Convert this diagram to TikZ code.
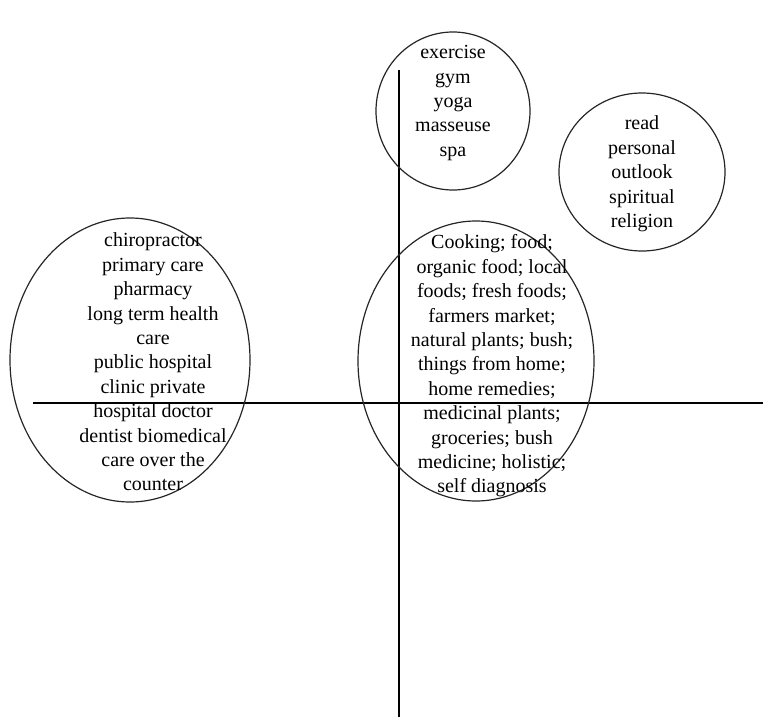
\documentclass[tikz,border=0pt]{standalone}
\usepackage{fontspec}
\setmainfont{Liberation Serif}
\usetikzlibrary{shapes.geometric}
\tikzset{
  blob/.style={ellipse, draw=black!85, line width=1.2pt, inner sep=0pt},
  lbl/.style={align=center, inner sep=0pt, font=\fontsize{20}{24.4}\selectfont},
  axis/.style={draw=black, line width=2.6pt}
}
\begin{document}
\begin{tikzpicture}[x=1pt,y=-1pt]
\useasboundingbox[fill=white] (0,0) rectangle (763,717);
% axes
\coordinate (vt) at (399,70);
\coordinate (vb) at (399,717);
\coordinate (hl) at (33,403);
\coordinate (hr) at (763,403);
\draw[axis] (vt) -- (vb);
\draw[axis] (hl) -- (hr);
% ellipses
\node[blob, minimum width=154pt, minimum height=158pt] (etop) at (453,111) {};
\node[blob, minimum width=166pt, minimum height=158pt] (eright) at (642,172) {};
\node[blob, minimum width=240pt, minimum height=284pt] (eleft) at (130,360) {};
\node[blob, minimum width=236pt, minimum height=280pt] (ecenter) at (476,361) {};
% texts
\node[lbl] (ttop) at (453,103) {exercise\\gym\\yoga\\masseuse\\spa};
\node[lbl] (tright) at (642,174) {read\\personal\\outlook\\spiritual\\religion};
\node[lbl] (tleft) at (153,362) {chiropractor\\primary care\\pharmacy\\long term health\\care\\public hospital\\clinic private\\hospital doctor\\dentist biomedical\\care over the\\counter};
\node[lbl] (tcenter) at (492,366) {Cooking; food;\\organic food; local\\foods; fresh foods;\\farmers market;\\natural plants; bush;\\things from home;\\home remedies;\\medicinal plants;\\groceries; bush\\medicine; holistic;\\self diagnosis};
\end{tikzpicture}
\end{document}
